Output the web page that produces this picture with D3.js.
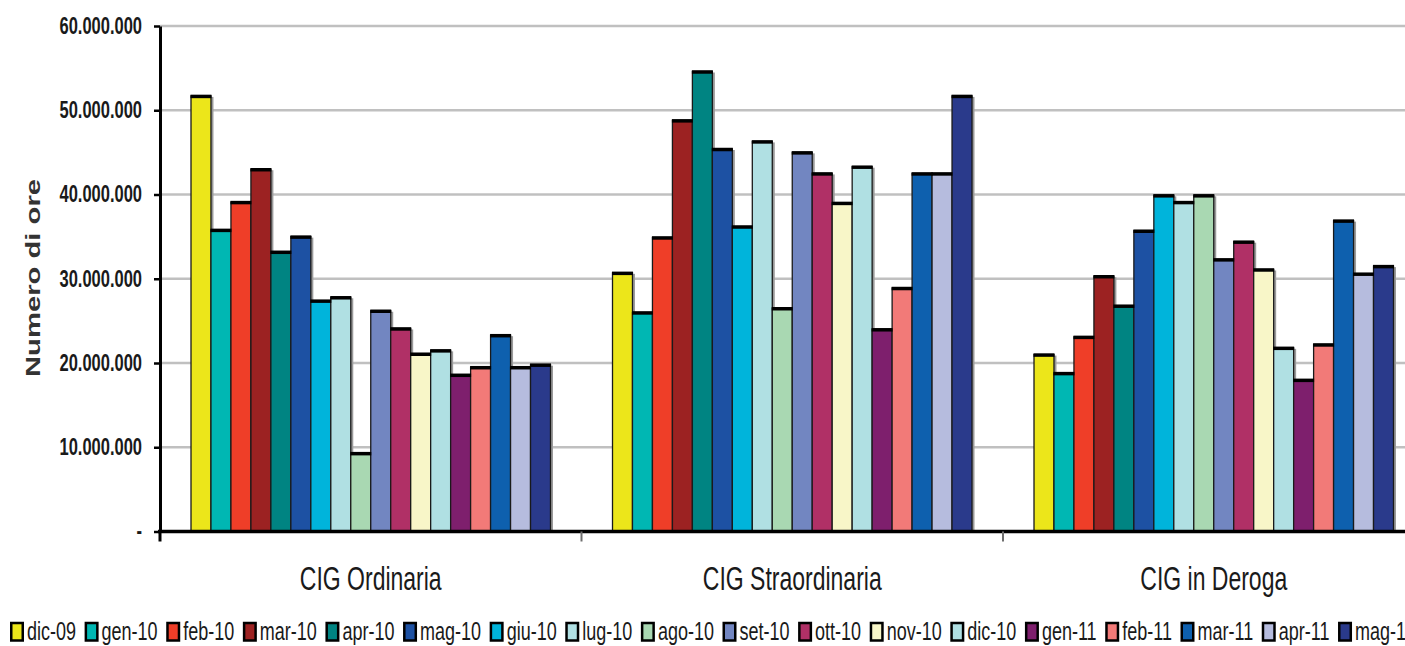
<!DOCTYPE html>
<html>
<head>
<meta charset="utf-8">
<script src="https://cdn.jsdelivr.net/npm/d3@7"></script>
<style>
    body { margin: 0; background: #fff; }
    svg { display: block; overflow: hidden; font-family: "Liberation Sans", Arial, sans-serif; }
</style>
</head>
<body>
<div id="chart"></div>
<script>
// data (hours, CIG by type and month)
const categories = ["CIG Ordinaria", "CIG Straordinaria", "CIG in Deroga"];
const months = ["dic-09", "gen-10", "feb-10", "mar-10", "apr-10", "mag-10", "giu-10", "lug-10", "ago-10",
    "set-10", "ott-10", "nov-10", "dic-10", "gen-11", "feb-11", "mar-11", "apr-11", "mag-11"];

const ordinaria = [51.7, 35.8, 39.1, 43.0, 33.2, 35.0, 27.4, 27.8, 9.3, 26.2, 24.1, 21.1, 21.5, 18.6, 19.5, 23.3, 19.5, 19.8];
const straordinaria = [30.7, 26.0, 34.9, 48.8, 54.6, 45.4, 36.2, 46.3, 26.5, 45.0, 42.5, 39.0, 43.3, 24.0, 28.9, 42.5, 42.5, 51.7];
const deroga = [21.0, 18.8, 23.1, 30.3, 26.8, 35.7, 39.9, 39.1, 39.9, 32.3, 34.4, 31.1, 21.8, 18.0, 22.2, 36.9, 30.6, 31.5];

const monthColors = ["#ece61a", "#00b7b3", "#ef3e28", "#9c2222", "#008482", "#1d51a3", "#00b4db", "#b0e0e3", "#a9d8b2",
    "#7286c1", "#b03066", "#f8f6c8", "#b0e0e3", "#7e1f6d", "#f27a78", "#0e60ae", "#b6bcde", "#2a3a8b"];

const yTicks = [0, 10e6, 20e6, 30e6, 40e6, 50e6, 60e6];
const yAxisLabel = "Numero di ore";

const seriesByCategory = [ordinaria, straordinaria, deroga];
const data = categories.map((c, i) => ({
    key: c,
    values: months.map((m, j) => ({ key: m, value: seriesByCategory[i][j] * 1e6 }))
}));

const width = 1405,
    height = 646,
    stretch = 1.42; // the source picture is squashed horizontally

const margin = { left: 160, top: 26, bottom: 115 };

const svg = d3.select("#chart").append("svg")
    .attr("width", width)
    .attr("height", height);

const x0 = d3.scaleBand()
    .domain(categories)
    .range([margin.left, margin.left + 3 * 421.5]);

const x1 = d3.scaleBand()
    .domain(months)
    .range([31, x0.bandwidth() - 31]);

const y = d3.scaleLinear()
    .domain([0, 60e6])
    .range([height - margin.bottom + 0.5, margin.top]);

const colorScale = d3.scaleOrdinal().domain(months).range(monthColors);

// grid lines
svg.append("g")
    .selectAll("line")
    .data(yTicks.slice(1))
    .enter()
    .append("line")
    .attr("x1", margin.left)
    .attr("x2", width)
    .attr("y1", d => y(d))
    .attr("y2", d => y(d))
    .attr("stroke", "#c0c0c0")
    .attr("stroke-width", 2.5);

const groups = svg.append("g")
    .selectAll("g")
    .data(data)
    .enter()
    .append("g")
    .attr("transform", d => "translate(" + x0(d.key) + ",0)");

// shadows first, bars on top so only the exposed parts show
groups.selectAll(".shadow")
    .data(d => d.values)
    .enter()
    .append("rect")
    .attr("class", "shadow")
    .attr("x", d => x1(d.key) + 2.5)
    .attr("y", d => y(d.value) + 1)
    .attr("width", x1.bandwidth())
    .attr("height", d => y(0) - y(d.value) - 1)
    .attr("fill", "#9a9a9a");

groups.selectAll(".bar")
    .data(d => d.values)
    .enter()
    .append("rect")
    .attr("class", "bar")
    .attr("x", d => x1(d.key))
    .attr("y", d => y(d.value))
    .attr("width", x1.bandwidth())
    .attr("height", d => y(0) - y(d.value))
    .attr("fill", d => colorScale(d.key))
    .attr("stroke", "#1a1a1a")
    .attr("stroke-width", 1.3);

groups.selectAll(".top")
    .data(d => d.values)
    .enter()
    .append("line")
    .attr("class", "top")
    .attr("x1", d => x1(d.key) - 0.5)
    .attr("x2", d => x1(d.key) + x1.bandwidth() + 0.5)
    .attr("y1", d => y(d.value) + 0.5)
    .attr("y2", d => y(d.value) + 0.5)
    .attr("stroke", "#000")
    .attr("stroke-width", 3.5);

// x axis
const xAxis = d3.axisBottom(x0)
    .tickSize(0)
    .tickSizeOuter(0);

const gXAxis = svg.append("g")
    .attr("transform", "translate(0," + y(0) + ")")
    .call(xAxis);

gXAxis.select(".domain")
    .attr("d", "M" + (margin.left - 2) + ",0H" + width)
    .attr("stroke", "#000")
    .attr("stroke-width", 3.5);

gXAxis.selectAll("text")
    .attr("y", 0)
    .attr("dy", 0)
    .attr("transform", "translate(0,58) scale(1," + stretch + ")")
    .style("font-size", "23px")
    .style("fill", "#1a1a1a");

// group separators
gXAxis.selectAll(".sep")
    .data(categories.slice(1))
    .enter()
    .append("line")
    .attr("class", "sep")
    .attr("x1", d => x0(d))
    .attr("x2", d => x0(d))
    .attr("y1", 0)
    .attr("y2", 10)
    .attr("stroke", "#6e6e6e")
    .attr("stroke-width", 2);

gXAxis.append("line")
    .attr("x1", margin.left)
    .attr("x2", margin.left)
    .attr("y1", 0)
    .attr("y2", 10)
    .attr("stroke", "#000")
    .attr("stroke-width", 3);

// y axis
const yAxis = d3.axisLeft(y)
    .tickValues(yTicks)
    .tickSize(6)
    .tickSizeOuter(0)
    .tickPadding(12)
    .tickFormat(d => d === 0 ? "-" : d3.format(",")(d).replace(/,/g, "."));

const gYAxis = svg.append("g")
    .attr("transform", "translate(" + margin.left + ",0)")
    .call(yAxis);

gYAxis.select(".domain")
    .attr("stroke", "#000")
    .attr("stroke-width", 3);

gYAxis.selectAll(".tick line")
    .attr("stroke", "#000")
    .attr("stroke-width", 2.5);

gYAxis.selectAll("text")
    .attr("transform", "scale(1," + stretch + ")")
    .style("font-size", "16.5px")
    .style("font-weight", "bold")
    .style("fill", "#1a1a1a");

svg.append("text")
    .attr("transform", "translate(40,278) scale(1," + (stretch * 0.98) + ") rotate(-90)")
    .attr("text-anchor", "middle")
    .style("font-size", "21px")
    .style("font-weight", "bold")
    .style("fill", "#333")
    .text(yAxisLabel);

// legend, laid out from the measured text widths
const legend = svg.append("g")
    .attr("transform", "translate(0,640)");

let cursor = 10;
months.forEach((m) => {
    const item = legend.append("g")
        .attr("transform", "translate(" + cursor + ",0)");

    item.append("rect")
        .attr("x", 1.25)
        .attr("y", -17)
        .attr("width", 11.5)
        .attr("height", 17.5)
        .attr("fill", colorScale(m))
        .attr("stroke", "#000")
        .attr("stroke-width", 2.5);

    const label = item.append("text")
        .attr("x", 17)
        .attr("transform", "scale(1," + stretch + ")")
        .style("font-size", "18px")
        .style("fill", "#1a1a1a")
        .text(m);

    cursor += 17 + label.node().getComputedTextLength() + 8.6;
});
</script>
</body>
</html>
